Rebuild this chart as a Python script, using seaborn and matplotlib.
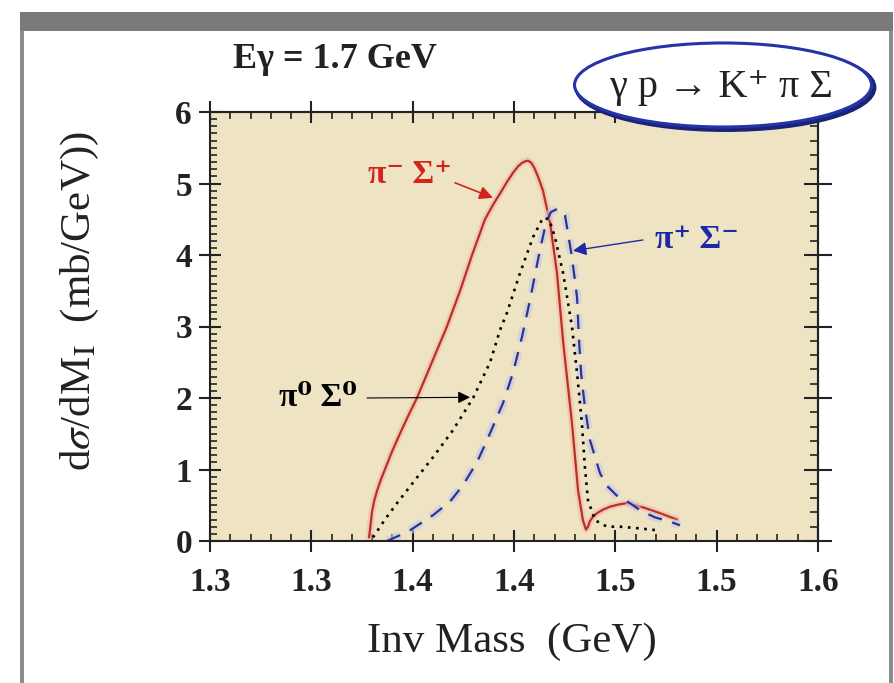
import matplotlib
matplotlib.use("Agg")
import numpy as np
import pandas as pd
import matplotlib.pyplot as plt
import matplotlib.patheffects as pe
import seaborn as sns
from matplotlib.patches import Ellipse, Rectangle
from matplotlib.ticker import MultipleLocator, NullFormatter

# pi- Sigma+ channel (solid red)
mass_pim_sigp = [1.3785, 1.3792, 1.3799, 1.3810, 1.3824, 1.3842, 1.3863, 1.3898,
                 1.3937, 1.3978, 1.4021, 1.4095, 1.4169, 1.4234, 1.4293, 1.4357,
                 1.4400, 1.4431, 1.4465, 1.4495, 1.4520, 1.4540, 1.4555, 1.4569,
                 1.4585, 1.4600, 1.4618, 1.4643, 1.4678, 1.4712, 1.4742, 1.4786,
                 1.4816, 1.4840, 1.4855, 1.4865, 1.4875, 1.4890, 1.4910, 1.4940,
                 1.4974, 1.5015, 1.5058, 1.5137, 1.5220, 1.5304]
dsig_pim_sigp = [0.05, 0.22, 0.40, 0.56, 0.70, 0.85, 1.00, 1.25,
                 1.50, 1.75, 2.00, 2.50, 3.00, 3.50, 4.00, 4.50,
                 4.72, 4.86, 5.02, 5.15, 5.24, 5.29, 5.31, 5.32,
                 5.29, 5.22, 5.10, 4.90, 4.45, 3.75, 2.80, 1.65,
                 0.71, 0.29, 0.16, 0.20, 0.28, 0.34, 0.39, 0.44,
                 0.48, 0.51, 0.53, 0.47, 0.39, 0.30]

# pi+ Sigma- channel (dashed blue)
mass_pip_sigm = [1.3873, 1.3937, 1.3987, 1.4100, 1.4184, 1.4248, 1.4317, 1.4367,
                 1.4446, 1.4495, 1.4539, 1.4579, 1.4628, 1.4658, 1.4682, 1.4717,
                 1.4752, 1.4786, 1.4811, 1.4821, 1.4831, 1.4850, 1.4875, 1.4924,
                 1.4959, 1.5013, 1.5072, 1.5122, 1.5196, 1.5270, 1.5319]
dsig_pip_sigm = [0.00, 0.08, 0.15, 0.36, 0.55, 0.78, 1.10, 1.41,
                 1.93, 2.35, 2.85, 3.37, 4.07, 4.45, 4.60, 4.65,
                 4.55, 3.97, 3.41, 2.80, 2.35, 1.87, 1.41, 0.95,
                 0.77, 0.62, 0.53, 0.43, 0.33, 0.27, 0.22]

# pi0 Sigma0 channel (dotted black)
mass_pi0_sig0 = [1.3804, 1.3863, 1.3923, 1.4011, 1.4100, 1.4199, 1.4298, 1.4382,
                 1.4431, 1.4465, 1.4530, 1.4594, 1.4643, 1.4673, 1.4702, 1.4742,
                 1.4786, 1.4811, 1.4835, 1.4850, 1.4865, 1.4900, 1.4959, 1.5023,
                 1.5107, 1.5206]
dsig_pi0_sig0 = [0.05, 0.30, 0.53, 0.85, 1.17, 1.55, 2.00, 2.50,
                 2.95, 3.19, 3.75, 4.25, 4.52, 4.50, 4.25, 3.75,
                 3.00, 2.35, 1.65, 1.03, 0.57, 0.29, 0.20, 0.20,
                 0.18, 0.15]

x_ticks = [1.30, 1.35, 1.40, 1.45, 1.50, 1.55, 1.60]
x_tick_labels = ['1.3', '1.3', '1.4', '1.4', '1.5', '1.5', '1.6']
y_ticks = [0, 1, 2, 3, 4, 5, 6]
y_tick_labels = ['0', '1', '2', '3', '4', '5', '6']

RED_LINE = '#B8302A'
RED_TEXT = '#D2231C'
BLUE_LINE = '#2A3590'
BLUE_TEXT = '#1C2AA8'
INK = '#222222'

sns.set_theme(style='white')
plt.rcParams['font.family'] = ['Liberation Serif', 'DejaVu Serif']
plt.rcParams['mathtext.fontset'] = 'stix'

W, H = 895, 683
fig = plt.figure(figsize=(W / 100, H / 100), dpi=100)
fig.patch.set_facecolor('white')

# outer frame: grey header bar and side rails
fig.add_artist(Rectangle((20 / W, 1 - 31 / H), 873 / W, 19 / H,
                         transform=fig.transFigure, color='#7a7a7a', lw=0))
fig.add_artist(Rectangle((20 / W, 0), 4 / W, 1 - 31 / H,
                         transform=fig.transFigure, color='#8c8c8c', lw=0))
fig.add_artist(Rectangle((889 / W, 0), 4 / W, 1 - 31 / H,
                         transform=fig.transFigure, color='#8c8c8c', lw=0))

ax = fig.add_axes([210 / W, 1 - 541 / H, 608 / W, 429 / H])
ax.set_facecolor('#EEE4C3')

halo_red = [pe.Stroke(linewidth=5, foreground='#F2B9A6', alpha=0.6), pe.Normal()]
halo_blue = [pe.Stroke(linewidth=6, foreground='#C9C6E6', alpha=0.6), pe.Normal()]

sns.lineplot(x=mass_pim_sigp, y=dsig_pim_sigp, ax=ax, color=RED_LINE, lw=1.6,
             sort=False, estimator=None, path_effects=halo_red)
sns.lineplot(x=mass_pip_sigm, y=dsig_pip_sigm, ax=ax, color=BLUE_LINE, lw=1.6,
             sort=False, estimator=None, linestyle=(0, (6.5, 4.8)),
             path_effects=halo_blue)
sns.lineplot(x=mass_pi0_sig0, y=dsig_pi0_sig0, ax=ax, color='black', lw=1.9,
             sort=False, estimator=None, linestyle=(0, (1, 2.1)))

ax.set_xlim(1.30, 1.60)
ax.set_ylim(0, 6)

for s in ax.spines.values():
    s.set_color(INK)
    s.set_linewidth(1.5)
    s.set_visible(True)

ax.set_xticks(x_ticks)
ax.set_xticklabels(x_tick_labels, fontsize=24, fontweight='bold', color=INK)
ax.set_yticks(y_ticks)
ax.set_yticklabels(y_tick_labels, fontsize=24, fontweight='bold', color=INK)
ax.xaxis.set_minor_locator(MultipleLocator(0.01))
ax.yaxis.set_minor_locator(MultipleLocator(0.1))
ax.tick_params(which='major', direction='inout', length=16, width=1.5,
               color=INK, bottom=True, left=True, top=False, right=False)
ax.tick_params(axis='x', which='major', pad=11)
ax.tick_params(axis='y', which='major', pad=5)
ax.tick_params(which='minor', direction='in', length=5, width=1.2,
               color=INK, bottom=True, left=True, top=False, right=False)

# top and right axes carry their own tick spacing
top = ax.secondary_xaxis('top')
top.set_xticks(x_ticks)
top.xaxis.set_minor_locator(MultipleLocator(0.01))
top.xaxis.set_major_formatter(NullFormatter())
top.tick_params(which='major', direction='inout', length=16, width=1.5, color=INK)
top.tick_params(which='minor', direction='in', length=5, width=1.2, color=INK)
top.spines['top'].set_color(INK)
top.spines['top'].set_linewidth(1.5)

right = ax.secondary_yaxis('right')
right.set_yticks(y_ticks)
right.yaxis.set_minor_locator(MultipleLocator(0.2))
right.yaxis.set_major_formatter(NullFormatter())
right.tick_params(which='major', direction='inout', length=20, width=1.5, color=INK)
right.tick_params(which='minor', direction='in', length=6, width=1.2, color=INK)
right.spines['right'].set_color(INK)
right.spines['right'].set_linewidth(1.5)

ax.set_xlabel('Inv Mass  (GeV)', fontsize=31, color=INK)
ax.xaxis.set_label_coords(0.497, -0.19)
ax.xaxis.label.set_va('top')
ax.set_ylabel(r'd$\sigma$/dM$_{\mathrm{I}}$  (mb/GeV))', fontsize=31, color=INK)
ax.yaxis.set_label_coords(-0.18, 0.56)

# channel labels with arrows
ax.text(1.3987, 5.12, 'π⁻ Σ⁺', color=RED_TEXT, fontsize=24, fontweight='bold',
        ha='center', va='center')
ax.annotate('', xy=(1.4396, 4.80), xytext=(1.4209, 5.01),
            arrowprops=dict(arrowstyle='-|>', color=RED_TEXT, lw=1.2,
                            mutation_scale=20, shrinkA=0, shrinkB=0))

ax.text(1.5403, 4.21, 'π⁺ Σ⁻', color=BLUE_TEXT, fontsize=24, fontweight='bold',
        ha='center', va='center')
ax.annotate('', xy=(1.4791, 4.06), xytext=(1.5136, 4.21),
            arrowprops=dict(arrowstyle='-|>', color=BLUE_TEXT, lw=1.0,
                            mutation_scale=20, shrinkA=0, shrinkB=0))

ax.text(1.3533, 2.01, 'π⁰ Σ⁰', color='black', fontsize=24, fontweight='bold',
        ha='center', va='center')
ax.annotate('', xy=(1.4283, 2.01), xytext=(1.3775, 2.0),
            arrowprops=dict(arrowstyle='-|>', color='black', lw=0.8,
                            mutation_scale=18, shrinkA=0, shrinkB=0))

# reaction badge
ax.add_patch(Ellipse((0.8438 + 0.004, 1.063 - 0.006), 0.4885, 0.1958,
                     transform=ax.transAxes, facecolor='none',
                     edgecolor='#1A2378', lw=3.5, clip_on=False, zorder=9))
ax.add_patch(Ellipse((0.8438, 1.063), 0.4885, 0.1958, transform=ax.transAxes,
                     facecolor='white', edgecolor='#2434A8', lw=2.2,
                     clip_on=False, zorder=10))
ax.text(0.842, 1.058, 'γ p → K⁺ π Σ', transform=ax.transAxes, fontsize=29,
        color=INK, ha='center', va='center', zorder=11)

fig.text(233 / W, 1 - 60 / H, 'Eγ = 1.7 GeV', fontsize=26, fontweight='bold',
         color=INK, ha='left', va='center')

fig.savefig('out.png', dpi=100)
